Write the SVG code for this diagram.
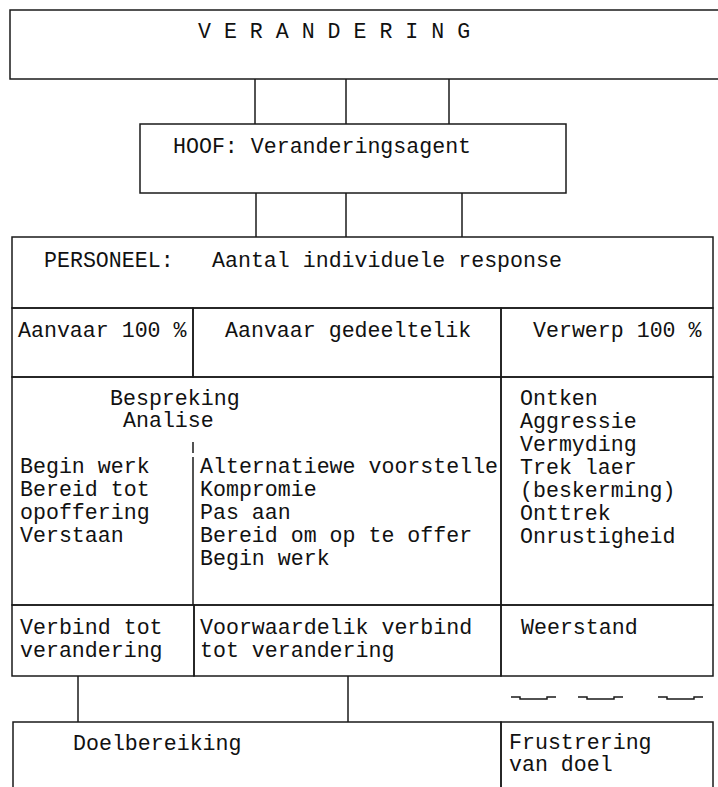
<svg xmlns="http://www.w3.org/2000/svg" width="718" height="787" viewBox="0 0 718 787">
<style>
  .box { fill: none; stroke: #1a1a1a; stroke-width: 1.5; }
  .ln { fill: none; stroke: #1a1a1a; stroke-width: 1.5; }
  text { font-family: "Liberation Mono", "DejaVu Sans Mono", monospace; font-size: 21.6px; fill: #111; }
</style>
<rect width="718" height="787" fill="#ffffff"/>

<g id="connectors">
  <line class="ln" x1="255" y1="79" x2="255" y2="124"/>
  <line class="ln" x1="346" y1="79" x2="346" y2="124"/>
  <line class="ln" x1="449" y1="79" x2="449" y2="124"/>
  <line class="ln" x1="256" y1="193" x2="256" y2="237"/>
  <line class="ln" x1="346" y1="193" x2="346" y2="237"/>
  <line class="ln" x1="462" y1="193" x2="462" y2="237"/>
  <line class="ln" x1="78" y1="676" x2="78" y2="722"/>
  <line class="ln" x1="348" y1="676" x2="348" y2="722"/>
  <path class="ln" d="M511 697 H520 V699 H547 V697 H556"/>
  <path class="ln" d="M578 697 H587 V699 H614 V697 H623"/>
  <path class="ln" d="M658 697 H667 V699 H694 V697 H703"/>
</g>

<g id="verandering">
  <rect class="box" x="10" y="10" width="715" height="69"/>
  <text x="198" y="38">V E R A N D E R I N G</text>
</g>

<g id="hoof">
  <rect class="box" x="140" y="124" width="426" height="69"/>
  <text x="173" y="153">HOOF: Veranderingsagent</text>
</g>

<g id="personeel">
  <rect class="box" x="12" y="237" width="701" height="71"/>
  <text x="44" y="267">PERSONEEL:</text>
  <text x="212" y="267">Aantal individuele response</text>
</g>

<g id="aanvaar100">
  <rect class="box" x="12" y="308" width="181" height="69"/>
  <text x="18" y="337">Aanvaar 100 %</text>
</g>

<g id="aanvaar-gedeeltelik">
  <rect class="box" x="193" y="308" width="308" height="69"/>
  <text x="225" y="337">Aanvaar gedeeltelik</text>
</g>

<g id="verwerp100">
  <rect class="box" x="501" y="308" width="212" height="69"/>
  <text x="533" y="337">Verwerp 100 %</text>
</g>

<g id="reaksie-aanvaar">
  <rect class="box" x="12" y="377" width="489" height="228"/>
  <line class="ln" x1="193" y1="442" x2="193" y2="453"/>
  <line class="ln" x1="193" y1="457" x2="193" y2="605"/>
  <text x="110" y="405">Bespreking</text>
  <text x="123" y="427">Analise</text>
  <text x="20" y="473">Begin werk</text>
  <text x="20" y="496">Bereid tot</text>
  <text x="20" y="519">opoffering</text>
  <text x="20" y="542">Verstaan</text>
  <text x="200" y="473">Alternatiewe voorstelle</text>
  <text x="200" y="496">Kompromie</text>
  <text x="200" y="519">Pas aan</text>
  <text x="200" y="542">Bereid om op te offer</text>
  <text x="200" y="565">Begin werk</text>
</g>

<g id="reaksie-verwerp">
  <rect class="box" x="501" y="377" width="212" height="228"/>
  <text x="520" y="405">Ontken</text>
  <text x="520" y="428">Aggressie</text>
  <text x="520" y="451">Vermyding</text>
  <text x="520" y="474">Trek laer</text>
  <text x="520" y="497">(beskerming)</text>
  <text x="520" y="520">Onttrek</text>
  <text x="520" y="543">Onrustigheid</text>
</g>

<g id="verbind">
  <rect class="box" x="12" y="605" width="182" height="71"/>
  <text x="20" y="634">Verbind tot</text>
  <text x="20" y="657">verandering</text>
</g>

<g id="voorwaardelik">
  <rect class="box" x="194" y="605" width="307" height="71"/>
  <text x="200" y="634">Voorwaardelik verbind</text>
  <text x="200" y="657">tot verandering</text>
</g>

<g id="weerstand">
  <rect class="box" x="501" y="605" width="212" height="71"/>
  <text x="521" y="634">Weerstand</text>
</g>

<g id="doelbereiking">
  <rect class="box" x="13" y="722" width="488" height="80"/>
  <text x="73" y="750">Doelbereiking</text>
</g>

<g id="frustrering">
  <rect class="box" x="501" y="722" width="212" height="80"/>
  <text x="509" y="749">Frustrering</text>
  <text x="509" y="771">van doel</text>
</g>
</svg>
